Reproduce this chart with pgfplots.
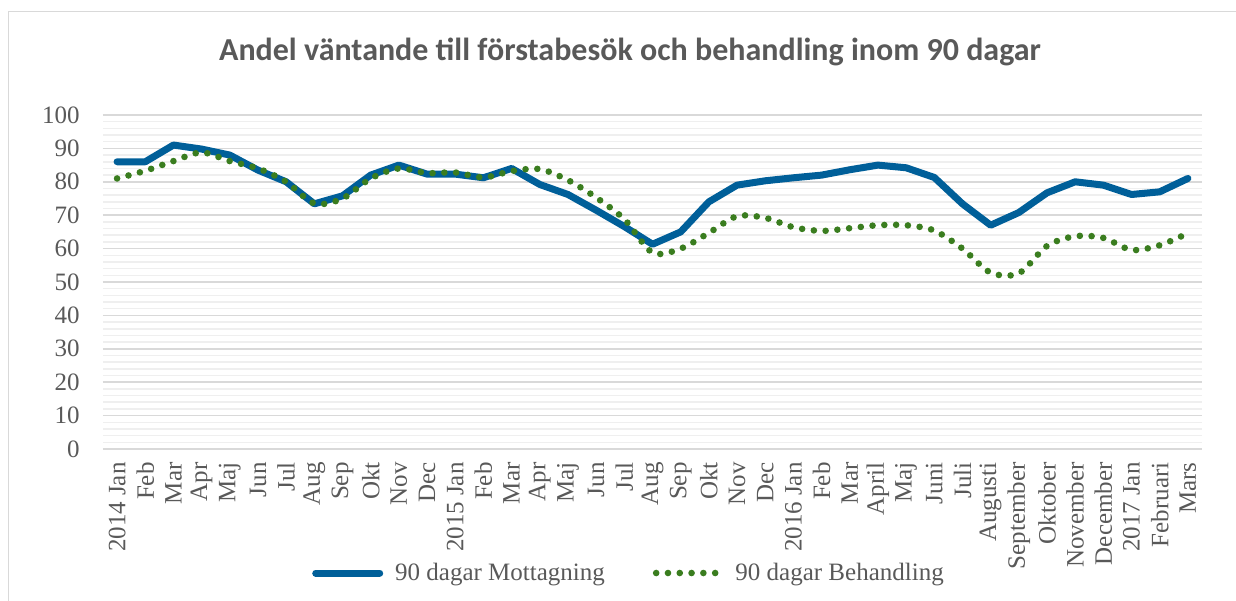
\documentclass[border=0pt]{standalone}
\usepackage{pgfplots}
\pgfplotsset{compat=1.18}
\usepackage{fontspec}
\setmainfont{Liberation Serif}
\newfontfamily\titlefont{Carlito}

\definecolor{txtgray}{HTML}{595959}
\definecolor{mottBlue}{HTML}{005F99}
\definecolor{behGreen}{HTML}{3A7D1F}
\definecolor{gridMajor}{HTML}{D9D9D9}
\definecolor{gridMinor}{HTML}{EFEFEF}

\begin{document}
\begin{tikzpicture}
\draw[gridMajor, line width=0.8bp] (-47.25bp,-76bp) -- (-47.25bp,218.75bp) -- (566.5bp,218.75bp);
\begin{axis}[
  at={(0,0)}, anchor=south west,
  scale only axis,
  width=549.5bp,
  height=167bp,
  xmin=-0.5, xmax=38.5,
  ymin=0, ymax=100,
  ytick={0,10,...,100},
  minor y tick num=4,
  xtick={0,...,38},
  xticklabels={2014 Jan,Feb,Mar,Apr,Maj,Jun,Jul,Aug,Sep,Okt,Nov,Dec,2015 Jan,Feb,Mar,Apr,Maj,Jun,Jul,Aug,Sep,Okt,Nov,Dec,2016 Jan,Feb,Mar,April,Maj,Juni,Juli,Augusti,September,Oktober,November,December,2017 Jan,Februari,Mars},
  axis line style={draw=none},
  major tick length=0pt,
  minor tick length=0pt,
  ymajorgrids, yminorgrids,
  major grid style={gridMajor, line width=0.75bp},
  minor grid style={gridMinor, line width=0.75bp},
  tick label style={font=\fontsize{12.5bp}{13.5bp}\selectfont, text=txtgray},
  /pgf/number format/assume math mode=true,
  xticklabel style={yshift=-6.5bp, rotate=90, anchor=east, inner sep=0pt},
  yticklabel style={xshift=-11.5bp, anchor=east, inner sep=0pt},
  title={\titlefont\bfseries\fontsize{16bp}{18bp}\selectfont Andel väntande till förstabesök och behandling inom 90 dagar},
  title style={at={(0.4795,1)}, anchor=center, yshift=25.5bp, text=txtgray},
  legend columns=2,
  legend style={at={(0.4795,0)}, anchor=center, yshift=-62bp, draw=none, fill=none,
    font=\fontsize{12.5bp}{13.5bp}\selectfont, text=txtgray,
    /tikz/every odd column/.append style={column sep=4bp},
    /tikz/every even column/.append style={column sep=22bp}},
  legend image code/.code={\draw[#1] (0bp,0bp) -- (32bp,0bp);},
  clip=false,
]
\addplot[mottBlue, line width=3.5bp, line join=round, line cap=round] coordinates {
(0,86) (1,86) (2,91) (3,89.8) (4,88) (5,83.5) (6,80) (7,73.4) (8,75.8) (9,82) (10,85) (11,82.3)
(12,82.3) (13,81.2) (14,84) (15,79.2) (16,76.2) (17,71.5) (18,66.6) (19,61.3) (20,65) (21,74) (22,79) (23,80.3)
(24,81.2) (25,82) (26,83.6) (27,85) (28,84.2) (29,81.3) (30,73.4) (31,67) (32,70.8) (33,76.7) (34,80) (35,79) (36,76.2) (37,77) (38,81)
};
\addlegendentry{90 dagar Mottagning}
\addplot[behGreen, line width=3.3bp, line cap=round, dash pattern=on 0bp off 5.9bp, smooth, tension=0.5] coordinates {
(0,81) (1,83.3) (2,86.2) (3,88.8) (4,86.2) (5,84) (6,80) (7,73.5) (8,75) (9,81) (10,84) (11,82.6)
(12,82.8) (13,81.3) (14,83.2) (15,83.8) (16,80.5) (17,75.3) (18,68.8) (19,58.8) (20,60) (21,64.7) (22,69.7) (23,69.2)
(24,66.4) (25,65.3) (26,66.1) (27,67) (28,67) (29,65.4) (30,60) (31,52.8) (32,52.6) (33,60.8) (34,63.7) (35,63.2) (36,59.6) (37,61) (38,64.6)
};
\addlegendentry{90 dagar Behandling}
\end{axis}
\pgfresetboundingbox
\path[use as bounding box] (-51.5bp,-76bp) rectangle (566.5bp,224.5bp);
\end{tikzpicture}
\end{document}
